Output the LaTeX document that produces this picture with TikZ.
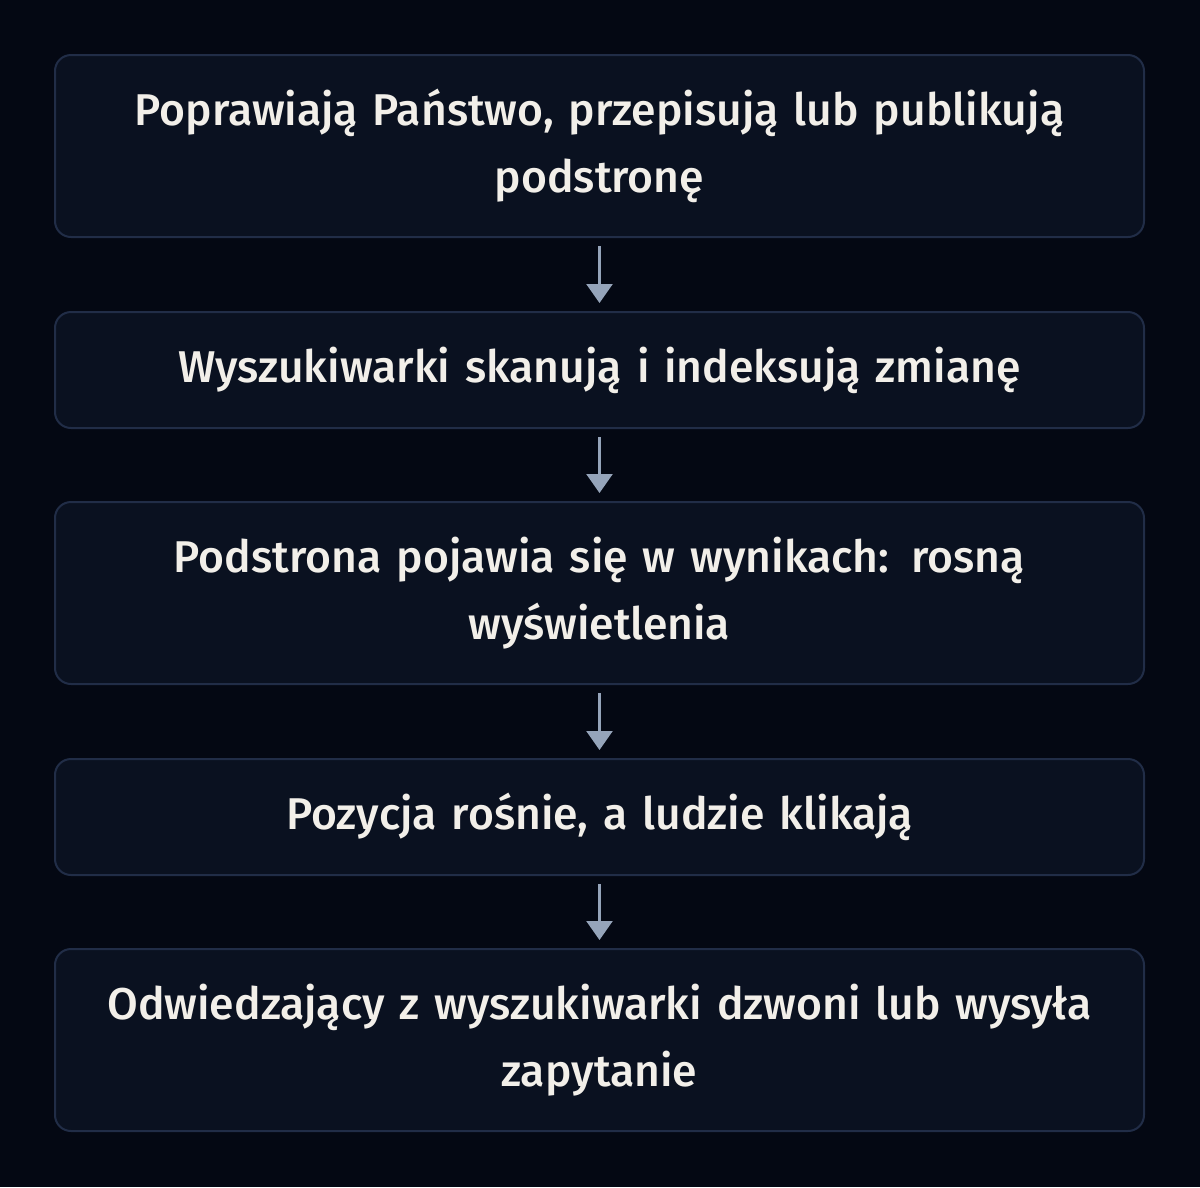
\documentclass[tikz,border=0pt]{standalone}
\usepackage{fontspec}
\setmainfont{Fira Sans}[UprightFont=* Medium]
\usetikzlibrary{arrows.meta}
\definecolor{bgc}{HTML}{040813}
\definecolor{boxfill}{HTML}{0A1120}
\definecolor{boxline}{HTML}{212D47}
\definecolor{arrowc}{HTML}{95A4BA}
\definecolor{txt}{HTML}{F2EFE9}
\tikzset{
  stepbox/.style={draw=boxline, line width=2pt, fill=boxfill, rounded corners=16pt,
    minimum width=1089pt, text width=1080pt, align=center, inner sep=0pt,
    text=txt, font=\fontsize{44.5}{67}\selectfont},
  flowarrow/.style={draw=arrowc, line width=2.5pt, shorten <=8pt, shorten >=8pt,
    -{Triangle[width=26pt,length=19pt]}}
}
\begin{document}
\begin{tikzpicture}[x=1pt,y=-1pt]
\fill[bgc] (0,0) rectangle (1200,1187);
\useasboundingbox (0,0) rectangle (1200,1187);
\node[stepbox, minimum height=182pt] (b1) at (599.5,146) {Poprawiają Państwo, przepisują lub publikują\\podstronę};
\node[stepbox, minimum height=116pt] (b2) at (599.5,370) {Wyszukiwarki skanują i indeksują zmianę};
\node[stepbox, minimum height=182pt] (b3) at (599.5,593) {Podstrona pojawia się w wynikach: rosną\\wyświetlenia};
\node[stepbox, minimum height=116pt] (b4) at (599.5,817) {Pozycja rośnie, a ludzie klikają};
\node[stepbox, minimum height=182pt] (b5) at (599.5,1040) {Odwiedzający z wyszukiwarki dzwoni lub wysyła\\zapytanie};
\draw[flowarrow] (b1.south) -- (b2.north);
\draw[flowarrow] (b2.south) -- (b3.north);
\draw[flowarrow] (b3.south) -- (b4.north);
\draw[flowarrow] (b4.south) -- (b5.north);
\end{tikzpicture}
\end{document}
